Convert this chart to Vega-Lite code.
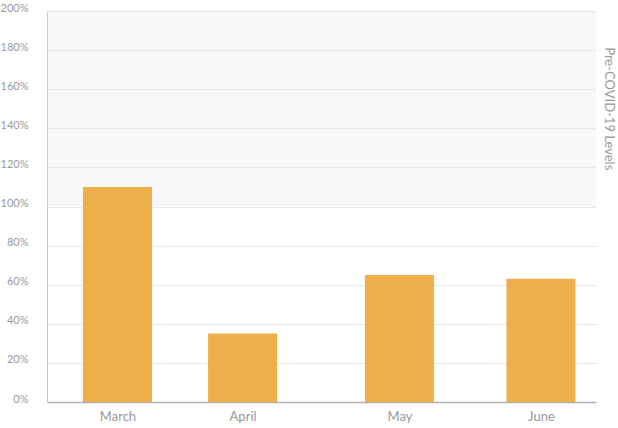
{
  "$schema": "https://vega.github.io/schema/vega-lite/v6.json",
  "width": 549,
  "height": 391,
  "autosize": {"type": "none"},
  "padding": {"left": 47, "top": 11, "right": 22, "bottom": 26},
  "config": {
    "font": "Lato",
    "view": {"stroke": null},
    "axis": {"labelColor": "#999999", "labelFont": "Lato"}
  },
  "layer": [
    {
      "data": {"values": [{"value": 1, "hi": 2}]},
      "mark": {"type": "rect", "color": "#dfe3eb", "opacity": 0.25},
      "encoding": {
        "y": {
          "field": "value", "type": "quantitative",
          "scale": {"domain": [0, 2], "nice": false},
          "axis": {
            "title": null,
            "values": [0, 0.2, 0.4, 0.6, 0.8, 1, 1.2, 1.4, 1.6, 1.8, 2],
            "format": ".0%",
            "ticks": false,
            "labelOverlap": false,
            "gridColor": "#e8e8e8",
            "domainColor": "#c4c4c4",
            "labelFontSize": 11,
            "labelPadding": 19,
            "labelBaseline": "alphabetic"
          }
        },
        "y2": {"field": "hi"}
      }
    },
    {
      "data": {"values": [
        {"month": "March", "date": "2020-03-11T00:00:00", "value": 1.10},
        {"month": "April", "date": "2020-04-12T12:00:00", "value": 0.35},
        {"month": "May", "date": "2020-05-23T06:00:00", "value": 0.65},
        {"month": "June", "date": "2020-06-29T00:00:00", "value": 0.63}
      ]},
      "mark": {"type": "bar", "size": 69, "color": "#eeae4a"},
      "encoding": {
        "x": {
          "field": "date", "type": "temporal",
          "scale": {"nice": false, "domain": [
            {"year": 2020, "month": 2, "date": 23},
            {"year": 2020, "month": 7, "date": 12}
          ]},
          "axis": {
            "title": null,
            "values": [
              {"year": 2020, "month": 3, "date": 11},
              {"year": 2020, "month": 4, "date": 12, "hours": 12},
              {"year": 2020, "month": 5, "date": 23, "hours": 6},
              {"year": 2020, "month": 6, "date": 29}
            ],
            "labelExpr": "timeFormat(datum.value, '%B')",
            "grid": false,
            "ticks": false,
            "labelOverlap": false,
            "domainColor": "#b0b0b0",
            "domainWidth": 1.5,
            "labelFontSize": 13,
            "labelPadding": 8
          }
        },
        "y": {
          "field": "value", "type": "quantitative",
          "scale": {"domain": [0, 2], "nice": false},
          "axis": {
            "title": null,
            "values": [0, 0.2, 0.4, 0.6, 0.8, 1, 1.2, 1.4, 1.6, 1.8, 2],
            "format": ".0%",
            "ticks": false,
            "labelOverlap": false,
            "gridColor": "#e8e8e8",
            "domainColor": "#c4c4c4",
            "labelFontSize": 11,
            "labelPadding": 19,
            "labelBaseline": "alphabetic"
          }
        }
      }
    },
    {
      "data": {"values": [{"value": 1.5, "label": "Pre-COVID-19 Levels", "date": "2020-07-12T00:00:00"}]},
      "mark": {"type": "text", "angle": 90, "dy": -18, "fontSize": 13, "color": "#999999", "align": "center", "baseline": "middle"},
      "encoding": {
        "x": {
          "field": "date", "type": "temporal",
          "scale": {"nice": false, "domain": [
            {"year": 2020, "month": 2, "date": 23},
            {"year": 2020, "month": 7, "date": 12}
          ]},
          "axis": {
            "title": null,
            "values": [
              {"year": 2020, "month": 3, "date": 11},
              {"year": 2020, "month": 4, "date": 12, "hours": 12},
              {"year": 2020, "month": 5, "date": 23, "hours": 6},
              {"year": 2020, "month": 6, "date": 29}
            ],
            "labelExpr": "timeFormat(datum.value, '%B')",
            "grid": false,
            "ticks": false,
            "labelOverlap": false,
            "domainColor": "#b0b0b0",
            "domainWidth": 1.5,
            "labelFontSize": 13,
            "labelPadding": 8
          }
        },
        "y": {
          "field": "value", "type": "quantitative",
          "scale": {"domain": [0, 2], "nice": false},
          "axis": {
            "title": null,
            "values": [0, 0.2, 0.4, 0.6, 0.8, 1, 1.2, 1.4, 1.6, 1.8, 2],
            "format": ".0%",
            "ticks": false,
            "labelOverlap": false,
            "gridColor": "#e8e8e8",
            "domainColor": "#c4c4c4",
            "labelFontSize": 11,
            "labelPadding": 19,
            "labelBaseline": "alphabetic"
          }
        },
        "text": {"field": "label"}
      }
    }
  ]
}
